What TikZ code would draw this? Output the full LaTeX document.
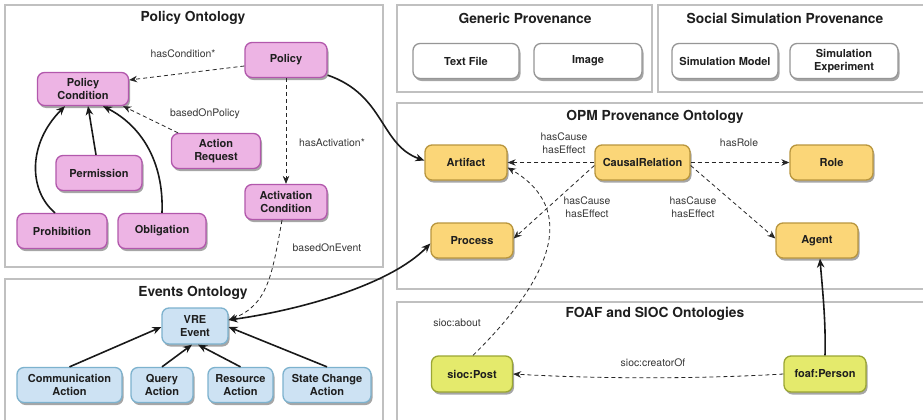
\documentclass[tikz,border=0pt]{standalone}
\usepackage{fontspec}
\setmainfont{TeX Gyre Heros}
\usetikzlibrary{shadows,arrows.meta}
\definecolor{pinkF}{RGB}{237,180,228}
\definecolor{pinkD}{RGB}{178,88,172}
\definecolor{blueF}{RGB}{205,226,243}
\definecolor{blueD}{RGB}{125,178,206}
\definecolor{orF}{RGB}{251,214,120}
\definecolor{orD}{RGB}{185,150,62}
\definecolor{ygF}{RGB}{228,234,108}
\definecolor{ygD}{RGB}{155,166,52}
\definecolor{whD}{RGB}{150,150,150}
\definecolor{panelD}{RGB}{192,192,192}
\definecolor{labC}{RGB}{55,55,55}
\definecolor{txtC}{RGB}{30,30,30}

\tikzset{
  panel/.style={draw=panelD, line width=1.2pt, fill=white},
  ptitle/.style={font=\bfseries\fontsize{13.8}{15}\selectfont, text=txtC},
  box/.style={rounded corners=7pt, line width=1.3pt, minimum height=35pt,
    align=center, inner sep=2pt, text=txtC,
    font=\bfseries\fontsize{11}{13.5}\selectfont,
    drop shadow={shadow xshift=1.5pt, shadow yshift=-2.5pt, opacity=0.35, fill=black}},
  pinkbox/.style={box, fill=pinkF, draw=pinkD},
  bluebox/.style={box, fill=blueF, draw=blueD},
  orbox/.style={box, fill=orF, draw=orD},
  ygbox/.style={box, fill=ygF, draw=ygD},
  whbox/.style={box, fill=white, draw=whD},
  lab/.style={font=\fontsize{10.4}{13}\selectfont, text=labC, align=center},
  solidarr/.style={line width=1.6pt, draw=black!90, -{Stealth[length=9pt,width=7.5pt]}},
  dasharr/.style={line width=0.8pt, draw=black!85, dash pattern=on 4pt off 3pt,
    -{Stealth[length=8pt,width=6.5pt]}},
}

\begin{document}
\begin{tikzpicture}[x=1pt,y=-1pt]
\useasboundingbox (0,0) rectangle (923,420);
\clip (0,0) rectangle (923,420);
\fill[white] (0,0) rectangle (923,420);

% panels
\draw[panel] (5,5) rectangle (383,267);
\draw[panel] (5,279) rectangle (383,430);
\draw[panel] (397,5) rectangle (652,92);
\draw[panel] (658,5) rectangle (940,92);
\draw[panel] (397,103) rectangle (940,289);
\draw[panel] (397,302) rectangle (940,430);

% panel titles
\node[ptitle] (tpol) at (193,18) {Policy Ontology};
\node[ptitle] (tev) at (193,293) {Events Ontology};
\node[ptitle] (tgen) at (525,18) {Generic Provenance};
\node[ptitle] (tsoc) at (785,18) {Social Simulation Provenance};
\node[ptitle] (topm) at (655,117) {OPM Provenance Ontology};
\node[ptitle] (tfoaf) at (655,314) {FOAF and SIOC Ontologies};

% policy ontology
\node[pinkbox, minimum width=82pt] (pol) at (286,60) {Policy};
\node[pinkbox, minimum width=91pt, minimum height=33pt] (pc) at (83,89) {Policy\\Condition};
\node[pinkbox, minimum width=89pt] (ar) at (216,151) {Action\\Request};
\node[pinkbox, minimum width=86pt] (perm) at (99,173) {Permission};
\node[pinkbox, minimum width=90pt] (proh) at (62,231) {Prohibition};
\node[pinkbox, minimum width=88pt] (obl) at (162,231) {Obligation};
\node[pinkbox, minimum width=82pt] (act) at (286,202) {Activation\\Condition};

\node[lab] (lhc) at (183,54) {hasCondition*};
\node[lab] (lbp) at (205,114) {basedOnPolicy};
\node[lab] (lha) at (332,143) {hasActivation*};
\node[lab] (lbe) at (327,248) {basedOnEvent};

% events ontology
\node[bluebox, minimum width=66pt, minimum height=36pt] (vre) at (195,326) {VRE\\Event};
\node[bluebox, minimum width=105pt] (comm) at (69.5,385) {Communication\\Action};
\node[bluebox, minimum width=62pt] (qa) at (162,385) {Query\\Action};
\node[bluebox, minimum width=65pt] (ra) at (240.5,385) {Resource\\Action};
\node[bluebox, minimum width=88pt] (sca) at (327,385) {State Change\\Action};

% generic and social simulation provenance
\node[whbox, minimum width=106pt] (tf) at (466,61) {Text File};
\node[whbox, minimum width=108pt] (img) at (588,61) {Image};
\node[whbox, minimum width=106pt] (sm) at (725,61) {Simulation Model};
\node[whbox, minimum width=108pt] (se) at (844,61) {Simulation\\Experiment};

% OPM provenance ontology
\node[orbox, minimum width=82pt] (art) at (466,162.5) {Artifact};
\node[orbox, minimum width=95pt] (cr) at (642.5,162.5) {CausalRelation};
\node[orbox, minimum width=83pt] (role) at (831.5,162.5) {Role};
\node[orbox, minimum width=82pt] (proc) at (472,240.5) {Process};
\node[orbox, minimum width=82pt] (agent) at (817,240.5) {Agent};

\node[lab] (lce1) at (564,143) {hasCause\\hasEffect};
\node[lab] (lrole) at (739,143) {hasRole};
\node[lab] (lce2) at (587,207) {hasCause\\hasEffect};
\node[lab] (lce3) at (693,207) {hasCause\\hasEffect};

% FOAF and SIOC
\node[ygbox, minimum width=81pt, minimum height=36pt] (post) at (472,374) {sioc:Post};
\node[ygbox, minimum width=82pt, minimum height=36pt] (person) at (825,374) {foaf:Person};
\node[lab] (labout) at (457,323) {sioc:about};
\node[lab] (lcreat) at (653,363) {sioc:creatorOf};

% policy connectors
\draw[dasharr] ([yshift=-6pt]pol.west) -- ([yshift=9pt]pc.east);
\draw[dasharr] (pol.south) -- (act.north);
\draw[dasharr] ([xshift=-38pt]ar.north) -- ([xshift=-6pt]pc.south east);
\draw[solidarr] ([xshift=-3pt]perm.north) -- ([xshift=5pt]pc.south);
\draw[solidarr] ([xshift=-7pt]proh.north) .. controls (28,190) and (28,143) .. ([xshift=-18pt]pc.south);
\draw[solidarr] (obl.north) .. controls (164,160) and (140,125) .. ([xshift=20pt]pc.south);

% event connectors
\draw[solidarr] (comm.north) -- ([yshift=-1pt]vre.west);
\draw[solidarr] (qa.north) -- ([xshift=-3pt]vre.south);
\draw[solidarr] (ra.north) -- ([xshift=3pt]vre.south);
\draw[solidarr] (sca.north) -- ([yshift=-1pt]vre.east);
\draw[dasharr] ([xshift=-4pt]act.south) .. controls (272,275) and (268,305) .. ([yshift=6pt]vre.east);

% cross-ontology links
\draw[solidarr] ([yshift=3pt]pol.south east) .. controls (385,95) and (380,145) .. ([yshift=2pt]art.west);
\draw[solidarr, {Stealth[length=9pt,width=7.5pt]}-{Stealth[length=9pt,width=7.5pt]}]
  ([yshift=6pt]vre.east) .. controls (300,310) and (390,285) .. ([yshift=-3pt]proc.west);

% OPM connectors
\draw[dasharr] (cr.west) -- (art.east);
\draw[dasharr] (cr.east) -- (role.west);
\draw[dasharr] ([yshift=-3pt]cr.west) -- ([yshift=2pt]proc.east);
\draw[dasharr] ([yshift=-3pt]cr.east) -- ([yshift=2pt]agent.west);

% FOAF / SIOC connectors
\draw[dasharr] ([xshift=1pt]post.north) .. controls (550,280) and (580,210) .. ([yshift=-5pt]art.east);
\draw[solidarr] (person.north) .. controls (826,320) and (822,285) .. ([xshift=3pt]agent.south);
\draw[dasharr] (person.west) .. controls (700,379) and (600,379) .. (post.east);
\end{tikzpicture}
\end{document}
